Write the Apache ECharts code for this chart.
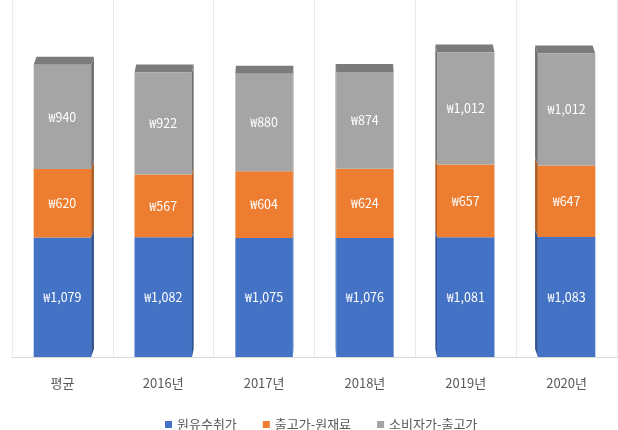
<!DOCTYPE html>
<html>
<head>
<meta charset="utf-8">
<script src="https://cdn.jsdelivr.net/npm/echarts@6/dist/echarts.min.js"></script>
<style>
  html, body { margin: 0; padding: 0; background: #fff; }
  #chart { width: 618px; height: 430px; }
</style>
</head>
<body>
<div id="chart"></div>
<script>
// categories and stacked values (₩)
var categories = ['평균', '2016년', '2017년', '2018년', '2019년', '2020년'];
var rawMilkPrice = [1079, 1082, 1075, 1076, 1081, 1083];
var factoryMargin = [620, 567, 604, 624, 657, 647];
var retailMargin = [940, 922, 880, 874, 1012, 1012];

var layers = [
    { name: '원유수취가', values: rawMilkPrice, color: '#4472c4', side: '#2f528f' },
    { name: '출고가-원재료', values: factoryMargin, color: '#ed7d31', side: '#ae5a21' },
    { name: '소비자가-출고가', values: retailMargin, color: '#a5a5a5', side: '#6f6f6f', top: '#7b7b7b' }
];

function won(v) {
    return '₩' + v.toLocaleString('en-US');
}

// fake excel-style 3D column: front face + side face + top cap
function renderBox(params, api) {
    var idx = api.value(0);
    var val = api.value(1);
    var base = api.value(2);
    var isTop = api.value(3) === 1;
    var p0 = api.coord([idx, base]);
    var p1 = api.coord([idx, base + val]);
    var band = api.size([1, 0])[0];
    var w = band * 0.57;
    var xl = p0[0] - w / 2, xr = xl + w;
    var yb = p0[1], yt = p1[1];
    var cs = params.coordSys;
    var dx = (cs.x + cs.width / 2 - p0[0]) * 0.011;
    var dy = -8;
    var layer = layers[params.seriesIndex];
    var children = [];
    var sx = dx > 0 ? xr : xl;
    children.push({
        type: 'polygon',
        shape: { points: [[sx, yt], [sx + dx, yt + dy], [sx + dx, yb + dy], [sx, yb]] },
        style: { fill: layer.side }
    });
    if (isTop) {
        children.push({
            type: 'polygon',
            shape: { points: [[xl, yt], [xr, yt], [xr + dx, yt + dy], [xl + dx, yt + dy]] },
            style: { fill: layer.top }
        });
    }
    children.push({
        type: 'rect',
        shape: { x: xl, y: yt, width: w, height: yb - yt },
        style: { fill: layer.color }
    });
    children.push({
        type: 'text',
        style: {
            text: won(val),
            x: (xl + xr) / 2,
            y: (yt + yb) / 2,
            align: 'center',
            verticalAlign: 'middle',
            fill: '#ffffff',
            font: '12.5px "Noto Sans CJK KR", "Noto Sans", sans-serif'
        }
    });
    return { type: 'group', children: children };
}

var chart = echarts.init(document.getElementById('chart'));

var series = layers.map(function (layer, k) {
    return {
        name: layer.name,
        type: 'custom',
        renderItem: renderBox,
        itemStyle: { color: layer.color },
        encode: { x: 0, y: 1 },
        data: categories.map(function (c, i) {
            var base = 0;
            for (var j = 0; j < k; j++) base += layers[j].values[i];
            return [i, layer.values[i], base, k === layers.length - 1 ? 1 : 0];
        })
    };
});

var option = {
    backgroundColor: '#ffffff',
    animation: false,
    grid: { left: 12, right: 1, top: 0, bottom: 73 },
    legend: {
        top: 413,
        left: 160,
        icon: 'rect',
        itemWidth: 7,
        itemHeight: 7,
        itemGap: 26,
        textStyle: { color: '#595959', fontSize: 13, fontFamily: '"Noto Sans CJK KR", sans-serif' }
    },
    xAxis: {
        type: 'category',
        data: categories,
        offset: 10,
        axisTick: { show: false },
        axisLine: { lineStyle: { color: '#d9d9d9' } },
        axisLabel: { color: '#595959', fontSize: 13, margin: 10, fontFamily: '"Noto Sans CJK KR", sans-serif' },
        splitLine: { show: true, lineStyle: { color: '#ebebeb' } }
    },
    yAxis: {
        type: 'value',
        min: 0,
        max: 3225,
        show: false
    },
    series: series
};

chart.setOption(option);
</script>
</body>
</html>
